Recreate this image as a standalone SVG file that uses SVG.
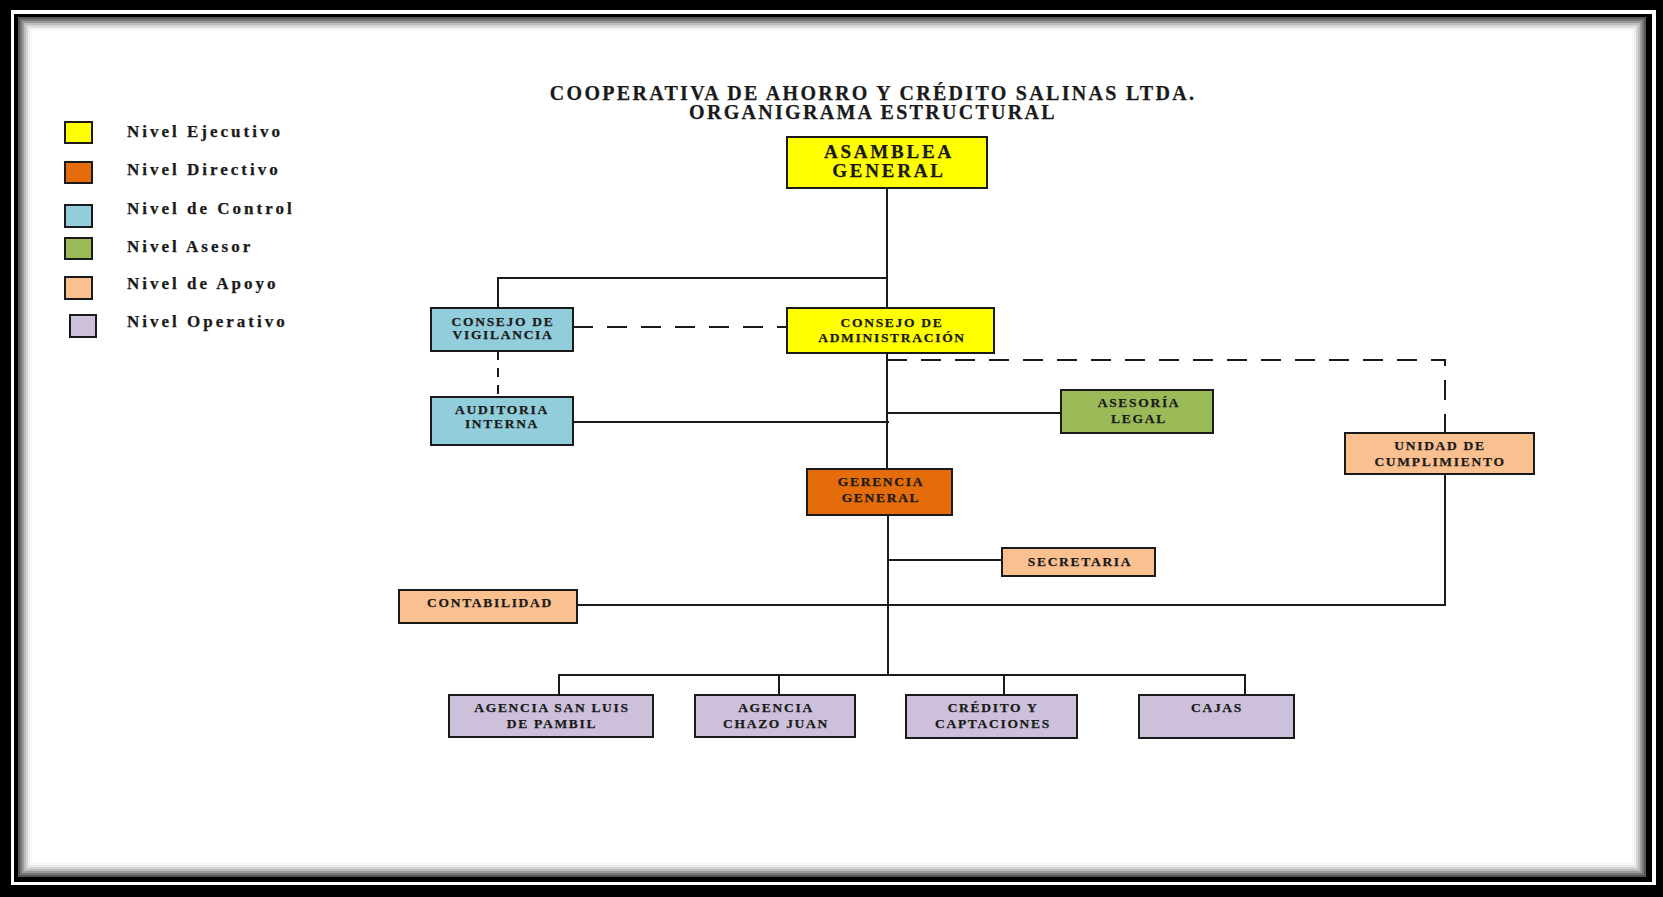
<svg xmlns="http://www.w3.org/2000/svg" width="1663" height="897" viewBox="0 0 1663 897">
<style>
.box{stroke:#1a1a1a;stroke-width:2}
.y{fill:#FFFF00}.o{fill:#E46C0A}.b{fill:#92CDDC}.g{fill:#9BBB59}.p{fill:#FAC090}.l{fill:#CCC0DA}
.t{font-family:"Liberation Serif","Times New Roman",serif;font-weight:bold;font-size:13.5px;letter-spacing:1.7px;fill:#1a1a1a;text-anchor:middle;stroke:#1a1a1a;stroke-width:0.25}
.big{font-size:19px;letter-spacing:2.8px}
.title{font-family:"Liberation Serif","Times New Roman",serif;font-weight:bold;font-size:20px;letter-spacing:2.3px;fill:#1a1a1a;text-anchor:middle;stroke:#1a1a1a;stroke-width:0.25}
.lg{font-family:"Liberation Serif","Times New Roman",serif;font-weight:bold;font-size:17px;letter-spacing:3px;fill:#1a1a1a;stroke:#1a1a1a;stroke-width:0.25}
.c{stroke:#1a1a1a;stroke-width:2;fill:none}
.d{stroke:#1a1a1a;stroke-width:2;fill:none;stroke-dasharray:20 14}
.ds{stroke:#1a1a1a;stroke-width:2;fill:none;stroke-dasharray:9 8}
</style>
<!-- frame -->
<rect x="0" y="0" width="1663" height="897" fill="#000"/>
<rect x="11" y="10" width="1645" height="875" fill="#fff"/>
<rect x="14" y="14" width="1638" height="868" fill="#000"/>
<rect x="18" y="17" width="1628" height="860" fill="#fff"/>
<g fill="none" stroke-width="2">
<rect x="19" y="18" width="1626" height="858" stroke="#555"/>
<rect x="21" y="20" width="1622" height="854" stroke="#777"/>
<rect x="23" y="22" width="1618" height="850" stroke="#999"/>
<rect x="25" y="24" width="1614" height="846" stroke="#bbb"/>
<rect x="27" y="26" width="1610" height="842" stroke="#d6d6d6"/>
<rect x="29" y="28" width="1606" height="838" stroke="#ececec"/>
<rect x="31" y="30" width="1602" height="834" stroke="#f8f8f8"/>
</g>
<!-- title -->
<text class="title" x="873" y="100">COOPERATIVA DE AHORRO Y CRÉDITO SALINAS LTDA.</text>
<text class="title" x="873" y="119">ORGANIGRAMA ESTRUCTURAL</text>
<!-- legend -->
<g id="legend">
<rect class="box y" x="65" y="122" width="27" height="21"/>
<rect class="box o" x="65" y="162" width="27" height="21"/>
<rect class="box b" x="65" y="205" width="27" height="22"/>
<rect class="box g" x="65" y="238" width="27" height="21"/>
<rect class="box p" x="65" y="277" width="27" height="22"/>
<rect class="box l" x="70" y="315" width="26" height="22"/>
<text class="lg" x="127" y="137">Nivel Ejecutivo</text>
<text class="lg" x="127" y="175">Nivel Directivo</text>
<text class="lg" x="127" y="214">Nivel de Control</text>
<text class="lg" x="127" y="252">Nivel Asesor</text>
<text class="lg" x="127" y="289">Nivel de Apoyo</text>
<text class="lg" x="127" y="327">Nivel Operativo</text>
</g>
<!-- connectors -->
<g id="connectors">
<path class="c" d="M887 188V308M887 278H498V308"/>
<path class="d" d="M573 327H787"/>
<path class="ds" d="M498 351V397"/>
<path class="c" d="M887 353V469M573 422H889M887 413H1061"/>
<path class="d" d="M887 360H1445V433"/>
<path class="c" d="M888 515V675M888 560H1002M577 605H1445V474"/>
<path class="c" d="M559 695V675H1245V695M779 675V695M1004 675V695"/>
</g>
<!-- nodes -->
<g id="asamblea"><rect class="box y" x="787" y="137" width="200" height="51"/>
<text class="t big" x="889" y="158">ASAMBLEA</text><text class="t big" x="889" y="177">GENERAL</text></g>
<g id="vigilancia"><rect class="box b" x="431" y="308" width="142" height="43"/>
<text class="t" x="503" y="326">CONSEJO DE</text><text class="t" x="503" y="339">VIGILANCIA</text></g>
<g id="administracion"><rect class="box y" x="787" y="308" width="207" height="45"/>
<text class="t" x="892" y="327">CONSEJO DE</text><text class="t" x="892" y="342">ADMINISTRACIÓN</text></g>
<g id="auditoria"><rect class="box b" x="431" y="397" width="142" height="48"/>
<text class="t" x="502" y="414">AUDITORIA</text><text class="t" x="502" y="428">INTERNA</text></g>
<g id="asesoria"><rect class="box g" x="1061" y="390" width="152" height="43"/>
<text class="t" x="1139" y="407">ASESORÍA</text><text class="t" x="1139" y="423">LEGAL</text></g>
<g id="unidad"><rect class="box p" x="1345" y="433" width="189" height="41"/>
<text class="t" x="1440" y="450">UNIDAD DE</text><text class="t" x="1440" y="466">CUMPLIMIENTO</text></g>
<g id="gerencia"><rect class="box o" x="807" y="469" width="145" height="46"/>
<text class="t" x="881" y="486">GERENCIA</text><text class="t" x="881" y="502">GENERAL</text></g>
<g id="secretaria"><rect class="box p" x="1002" y="548" width="153" height="28"/>
<text class="t" x="1080" y="566">SECRETARIA</text></g>
<g id="contabilidad"><rect class="box p" x="399" y="590" width="178" height="33"/>
<text class="t" x="490" y="607">CONTABILIDAD</text></g>
<g id="sanluis"><rect class="box l" x="449" y="695" width="204" height="42"/>
<text class="t" x="552" y="712">AGENCIA SAN LUIS</text><text class="t" x="552" y="728">DE PAMBIL</text></g>
<g id="chazo"><rect class="box l" x="695" y="695" width="160" height="42"/>
<text class="t" x="776" y="712">AGENCIA</text><text class="t" x="776" y="728">CHAZO JUAN</text></g>
<g id="credito"><rect class="box l" x="906" y="695" width="171" height="43"/>
<text class="t" x="993" y="712">CRÉDITO Y</text><text class="t" x="993" y="728">CAPTACIONES</text></g>
<g id="cajas"><rect class="box l" x="1139" y="695" width="155" height="43"/>
<text class="t" x="1217" y="712">CAJAS</text></g>
</svg>
